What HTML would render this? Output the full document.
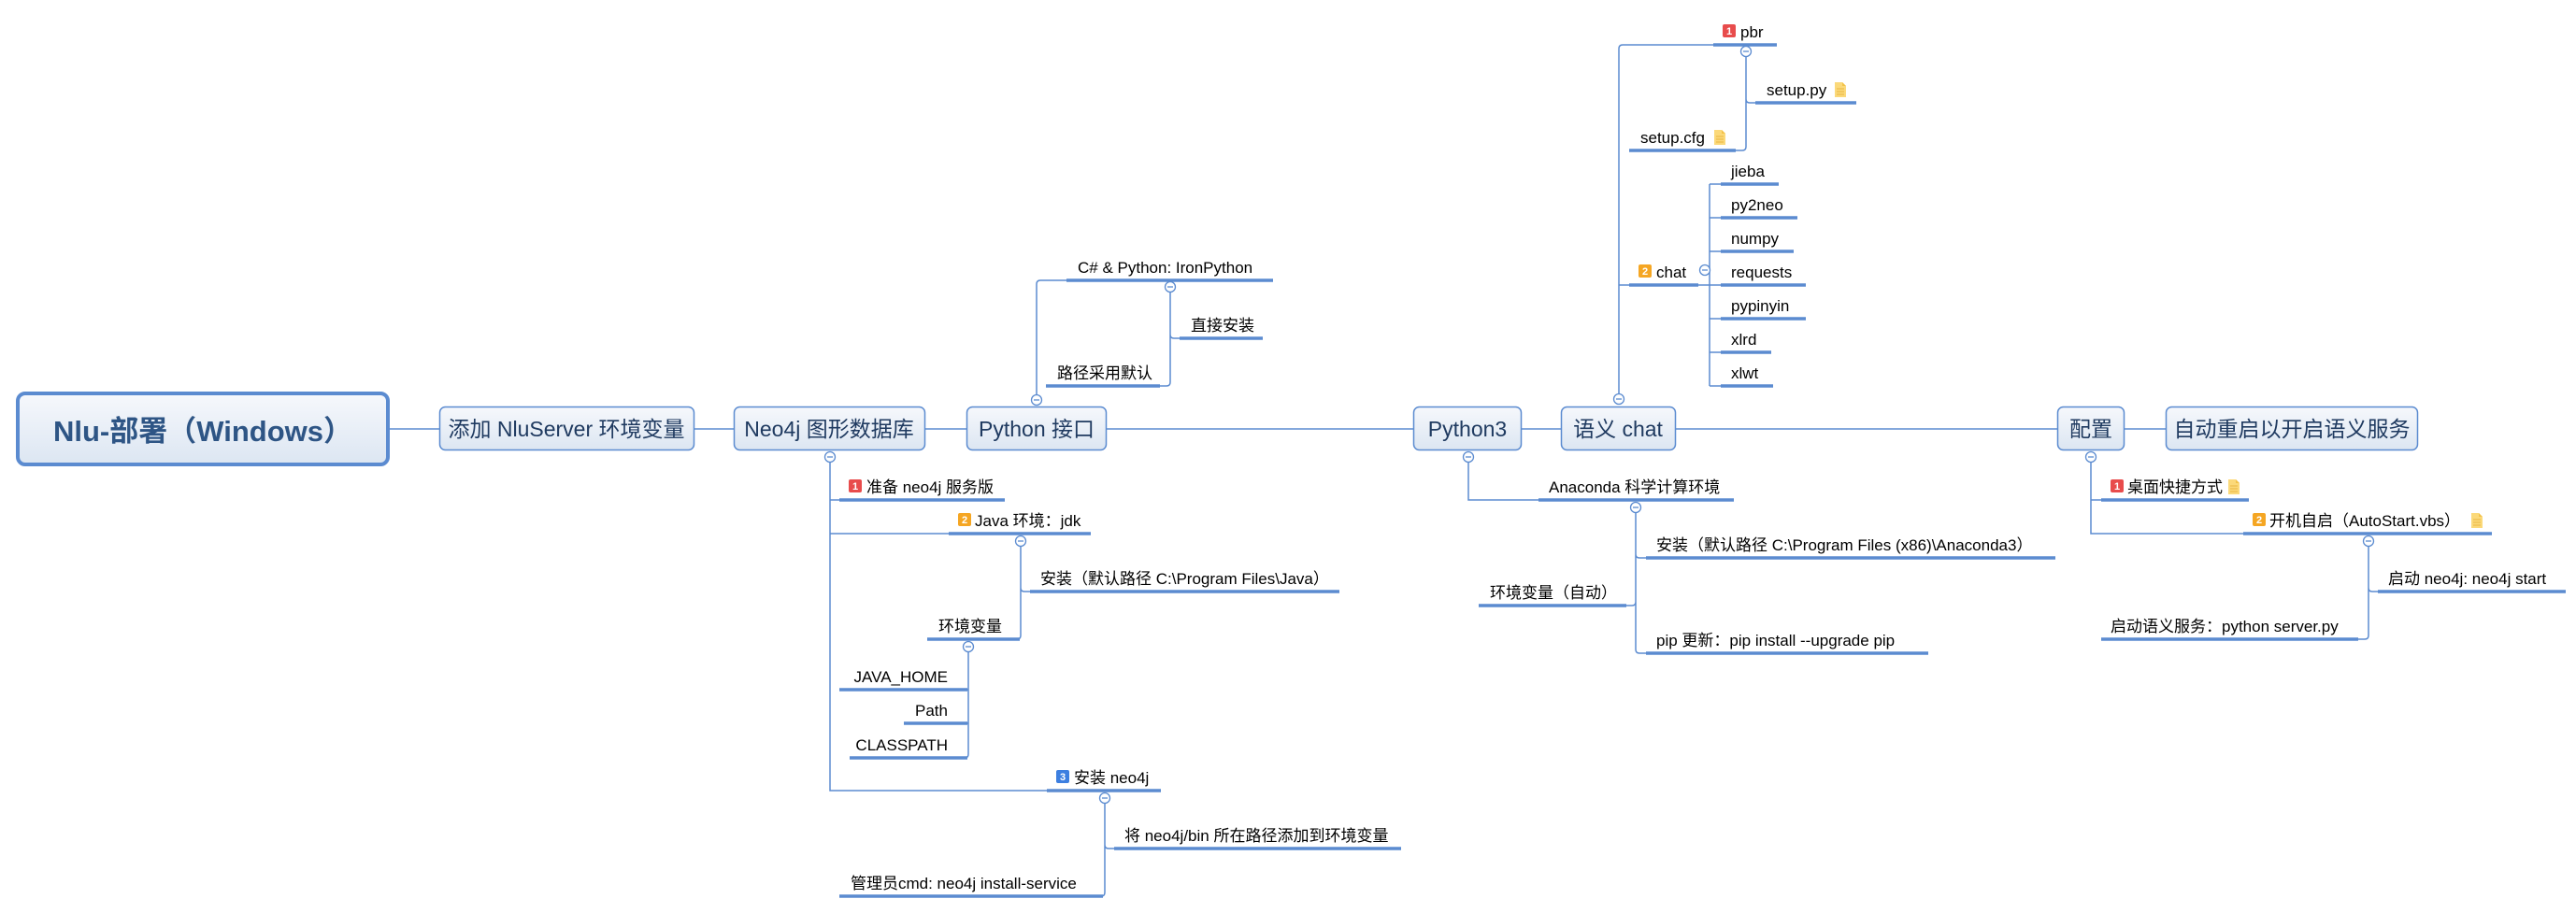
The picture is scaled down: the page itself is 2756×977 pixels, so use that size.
<!DOCTYPE html>
<html><head><meta charset="utf-8">
<style>
html,body{margin:0;padding:0;background:#fff;}
svg{display:block;}
.t{font-family:"Liberation Sans","Noto Sans CJK SC",sans-serif;font-size:17px;fill:#000;}
.b{font-family:"Liberation Sans","Noto Sans CJK SC",sans-serif;font-size:23px;fill:#1f3a60;}
.c{stroke:#5b8bd0;stroke-width:1.5;fill:none;}
.u{stroke:#5b8bd0;stroke-width:3.5;}
.ic{font-family:"Liberation Sans",sans-serif;font-size:11px;fill:#fff;font-weight:bold;}
</style></head><body>
<svg width="2756" height="977" viewBox="0 0 2756 977" xmlns="http://www.w3.org/2000/svg">
<defs>
<linearGradient id="g" x1="0" y1="0" x2="0" y2="1">
<stop offset="0" stop-color="#f6f8fc"/><stop offset="1" stop-color="#dce6f2"/></linearGradient>
<g id="m"><circle r="5.5" fill="#fff" stroke="#5b8bd0" stroke-width="1.3"/><line x1="-3" y1="0" x2="3" y2="0" stroke="#5b8bd0" stroke-width="1.3"/></g>
<g id="note"><path d="M0 0 H8 L12 4 V16 H0 Z" fill="#fbd97a"/><path d="M8 0 V4 H12" fill="#f3c24a"/><line x1="2" y1="7" x2="10" y2="7" stroke="#eab540" stroke-width="1"/><line x1="2" y1="10" x2="10" y2="10" stroke="#eab540" stroke-width="1"/><line x1="2" y1="13" x2="10" y2="13" stroke="#eab540" stroke-width="1"/></g>
</defs>

<!-- main line -->
<line x1="416" y1="459" x2="2317" y2="459" class="c"/>

<!-- boxes -->
<rect x="19" y="421" width="396" height="76" rx="8" fill="url(#g)" stroke="#5b8bd0" stroke-width="4"/>
<text x="217" y="472" text-anchor="middle" font-family="Liberation Sans,Noto Sans CJK SC,sans-serif" font-size="31" font-weight="bold" fill="#2e5585">Nlu-部署（Windows）</text>

<rect x="470.5" y="435.5" width="272" height="46" rx="6" fill="url(#g)" stroke="#5b8bd0" stroke-width="1.5"/>
<text x="606" y="467" text-anchor="middle" class="b">添加 NluServer 环境变量</text>
<rect x="785.5" y="435.5" width="204" height="46" rx="6" fill="url(#g)" stroke="#5b8bd0" stroke-width="1.5"/>
<text x="887" y="467" text-anchor="middle" class="b">Neo4j 图形数据库</text>
<rect x="1034.5" y="435.5" width="149" height="46" rx="6" fill="url(#g)" stroke="#5b8bd0" stroke-width="1.5"/>
<text x="1109" y="467" text-anchor="middle" class="b">Python 接口</text>
<rect x="1512.5" y="435.5" width="115" height="46" rx="6" fill="url(#g)" stroke="#5b8bd0" stroke-width="1.5"/>
<text x="1570" y="467" text-anchor="middle" class="b">Python3</text>
<rect x="1670.5" y="435.5" width="122" height="46" rx="6" fill="url(#g)" stroke="#5b8bd0" stroke-width="1.5"/>
<text x="1731" y="467" text-anchor="middle" class="b">语义 chat</text>
<rect x="2201.5" y="435.5" width="71" height="46" rx="6" fill="url(#g)" stroke="#5b8bd0" stroke-width="1.5"/>
<text x="2237" y="467" text-anchor="middle" class="b">配置</text>
<rect x="2317.5" y="435.5" width="269" height="46" rx="6" fill="url(#g)" stroke="#5b8bd0" stroke-width="1.5"/>
<text x="2452" y="467" text-anchor="middle" class="b">自动重启以开启语义服务</text>

<!-- Neo4j subtree -->
<path class="c" d="M888 489 V846 H1120 M888 535 H898 M888 571 H1015"/>
<path class="c" d="M1092 579 V629 Q1092 633 1096 633 H1102 M1092 629 V680 Q1092 684 1088 684 H1091"/>
<path class="c" d="M1036 692 V807 Q1036 811 1032 811 M1036 738 H1035 M1036 774 H1035"/>
<path class="c" d="M1182 854 V904 Q1182 908 1186 908 H1192 M1182 904 V955 Q1182 959 1178 959"/>
<use href="#m" x="888" y="489"/><use href="#m" x="1092" y="579"/><use href="#m" x="1036" y="692"/><use href="#m" x="1182" y="854"/>

<line class="u" x1="898" y1="535" x2="1075" y2="535"/>
<rect x="908" y="513" width="14" height="14" rx="2" fill="#e84c4c"/><text class="ic" x="915" y="524" text-anchor="middle">1</text>
<text class="t" x="927" y="527">准备 neo4j 服务版</text>
<line class="u" x1="1015" y1="571" x2="1167" y2="571"/>
<rect x="1025" y="549" width="14" height="14" rx="2" fill="#f5a623"/><text class="ic" x="1032" y="560" text-anchor="middle">2</text>
<text class="t" x="1043" y="563">Java 环境：jdk</text>
<line class="u" x1="1102" y1="633" x2="1433" y2="633"/>
<text class="t" x="1113" y="625">安装（默认路径 C:\Program Files\Java）</text>
<line class="u" x1="992" y1="684" x2="1091" y2="684"/>
<text class="t" x="1004" y="676">环境变量</text>
<line class="u" x1="898" y1="738" x2="1035" y2="738"/>
<text class="t" x="1014" y="730" text-anchor="end">JAVA_HOME</text>
<line class="u" x1="967" y1="774" x2="1035" y2="774"/>
<text class="t" x="1014" y="766" text-anchor="end">Path</text>
<line class="u" x1="909" y1="811" x2="1035" y2="811"/>
<text class="t" x="1014" y="803" text-anchor="end">CLASSPATH</text>
<line class="u" x1="1120" y1="846" x2="1242" y2="846"/>
<rect x="1130" y="824" width="14" height="14" rx="2" fill="#3d7fe0"/><text class="ic" x="1137" y="835" text-anchor="middle">3</text>
<text class="t" x="1149" y="838">安装 neo4j</text>
<line class="u" x1="1192" y1="908" x2="1499" y2="908"/>
<text class="t" x="1203" y="900">将 neo4j/bin 所在路径添加到环境变量</text>
<line class="u" x1="898" y1="959" x2="1180" y2="959"/>
<text class="t" x="910" y="951">管理员cmd: neo4j install-service</text>

<!-- Python 接口 subtree -->
<path class="c" d="M1109 428 V304 Q1109 300 1113 300 H1141"/>
<path class="c" d="M1252 307 V358 Q1252 362 1256 362 H1262 M1252 358 V409 Q1252 413 1248 413 H1241"/>
<use href="#m" x="1109" y="428"/><use href="#m" x="1252" y="307"/>
<line class="u" x1="1141" y1="300" x2="1362" y2="300"/>
<text class="t" x="1153" y="292">C# &amp; Python: IronPython</text>
<line class="u" x1="1262" y1="362" x2="1351" y2="362"/>
<text class="t" x="1274" y="354">直接安装</text>
<line class="u" x1="1119" y1="413" x2="1241" y2="413"/>
<text class="t" x="1131" y="405">路径采用默认</text>

<!-- chat subtree -->
<path class="c" d="M1732 427 V52 Q1732 48 1736 48 H1833 M1732 305 H1743"/>
<path class="c" d="M1868 55 V106 Q1868 110 1872 110 H1878 M1868 106 V157 Q1868 161 1864 161 H1857"/>
<path class="c" d="M1817 305 H1841 M1829 197 V413 M1829 197 H1841 M1829 233 H1841 M1829 269 H1841 M1829 341 H1841 M1829 377 H1841 M1829 413 H1841"/>
<use href="#m" x="1732" y="427"/><use href="#m" x="1868" y="55"/><use href="#m" x="1824" y="289"/>
<line class="u" x1="1833" y1="48" x2="1901" y2="48"/>
<rect x="1843" y="26" width="14" height="14" rx="2" fill="#e84c4c"/><text class="ic" x="1850" y="37" text-anchor="middle">1</text>
<text class="t" x="1862" y="40">pbr</text>
<line class="u" x1="1878" y1="110" x2="1986" y2="110"/>
<text class="t" x="1890" y="102">setup.py</text><use href="#note" x="1963" y="88"/>
<line class="u" x1="1743" y1="161" x2="1857" y2="161"/>
<text class="t" x="1755" y="153">setup.cfg</text><use href="#note" x="1834" y="139"/>
<line class="u" x1="1743" y1="305" x2="1817" y2="305"/>
<rect x="1753" y="283" width="14" height="14" rx="2" fill="#f5a623"/><text class="ic" x="1760" y="294" text-anchor="middle">2</text>
<text class="t" x="1772" y="297">chat</text>
<line class="u" x1="1841" y1="197" x2="1903" y2="197"/><text class="t" x="1852" y="189">jieba</text>
<line class="u" x1="1841" y1="233" x2="1923" y2="233"/><text class="t" x="1852" y="225">py2neo</text>
<line class="u" x1="1841" y1="269" x2="1919" y2="269"/><text class="t" x="1852" y="261">numpy</text>
<line class="u" x1="1841" y1="305" x2="1932" y2="305"/><text class="t" x="1852" y="297">requests</text>
<line class="u" x1="1841" y1="341" x2="1932" y2="341"/><text class="t" x="1852" y="333">pypinyin</text>
<line class="u" x1="1841" y1="377" x2="1895" y2="377"/><text class="t" x="1852" y="369">xlrd</text>
<line class="u" x1="1841" y1="413" x2="1897" y2="413"/><text class="t" x="1852" y="405">xlwt</text>

<!-- Python3 subtree -->
<path class="c" d="M1571 489 V535 H1646"/>
<path class="c" d="M1750 543 V593 Q1750 597 1754 597 H1761 M1750 593 V644 Q1750 648 1746 648 H1740 M1750 644 V695 Q1750 699 1754 699 H1761"/>
<use href="#m" x="1571" y="489"/><use href="#m" x="1750" y="543"/>
<line class="u" x1="1646" y1="535" x2="1855" y2="535"/>
<text class="t" x="1657" y="527">Anaconda 科学计算环境</text>
<line class="u" x1="1761" y1="597" x2="2199" y2="597"/>
<text class="t" x="1772" y="589">安装（默认路径 C:\Program Files (x86)\Anaconda3）</text>
<line class="u" x1="1582" y1="648" x2="1740" y2="648"/>
<text class="t" x="1594" y="640">环境变量（自动）</text>
<line class="u" x1="1761" y1="699" x2="2063" y2="699"/>
<text class="t" x="1772" y="691">pip 更新：pip install --upgrade pip</text>

<!-- 配置 subtree -->
<path class="c" d="M2237 489 V571 H2400 M2237 535 H2248"/>
<path class="c" d="M2534 579 V629 Q2534 633 2538 633 H2544 M2534 629 V680 Q2534 684 2530 684 H2523"/>
<use href="#m" x="2237" y="489"/><use href="#m" x="2534" y="579"/>
<line class="u" x1="2248" y1="535" x2="2406" y2="535"/>
<rect x="2258" y="513" width="14" height="14" rx="2" fill="#e84c4c"/><text class="ic" x="2265" y="524" text-anchor="middle">1</text>
<text class="t" x="2276" y="527">桌面快捷方式</text><use href="#note" x="2384" y="513"/>
<line class="u" x1="2400" y1="571" x2="2666" y2="571"/>
<rect x="2410" y="549" width="14" height="14" rx="2" fill="#f5a623"/><text class="ic" x="2417" y="560" text-anchor="middle">2</text>
<text class="t" x="2428" y="563">开机自启（AutoStart.vbs）</text><use href="#note" x="2644" y="549"/>
<line class="u" x1="2544" y1="633" x2="2745" y2="633"/>
<text class="t" x="2555" y="625">启动 neo4j: neo4j start</text>
<line class="u" x1="2248" y1="684" x2="2523" y2="684"/>
<text class="t" x="2258" y="676">启动语义服务：python server.py</text>
</svg>
</body></html>
